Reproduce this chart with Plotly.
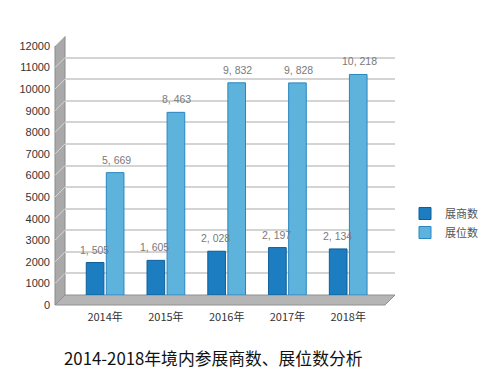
import plotly.graph_objects as go

categories = ["2014年", "2015年", "2016年", "2017年", "2018年"]
exhibitors = [1505, 1605, 2028, 2197, 2134]
booths = [5669, 8463, 9832, 9828, 10218]
series_names = ["展商数", "展位数"]
y_ticks = list(range(0, 12001, 1000))
title_text = "2014-2018年境内参展商数、展位数分析"

OFF = 8  # page body margin
W, H = 500 - OFF, 389 - OFF
# plot area in screenshot pixels
SL, SR, ST, SB = 65, 395, 36, 295
L, R, T, B = SL - OFF, SR - OFF, ST - OFF, SB - OFF


def px(x):
    return (x - SL) / (SR - SL)


def py(y):
    return (SB - y) / (SB - ST)


fig = go.Figure()
fig.add_trace(go.Bar(
    x=categories, y=exhibitors, name=series_names[0],
    marker=dict(color="#1c7ec0", line=dict(color="#0e5e98", width=1)),
))
fig.add_trace(go.Bar(
    x=categories, y=booths, name=series_names[1],
    marker=dict(color="#5db3dc", line=dict(color="#2a86c0", width=1)),
))

label_font = dict(color="#7a7a7a", size=10.5, family="Liberation Sans")
annotations = []
for series, shift in ((exhibitors, -11), (booths, 11)):
    for c, v in zip(categories, series):
        annotations.append(dict(x=c, y=v, xref="x", yref="y", xshift=shift, yshift=5,
                                text=f"{v:,}".replace(",", ", "), showarrow=False,
                                yanchor="bottom", font=label_font))
annotations.append(dict(text=title_text, xref="paper", yref="paper",
                        x=px(62), y=py(358), xanchor="left", yanchor="middle",
                        showarrow=False,
                        font=dict(size=16.8, color="#111", family="Noto Sans CJK SC")))

shapes = []
# left wall
shapes.append(dict(type="path", xref="paper", yref="paper",
                   path=f"M {px(55)},{py(46)} L {px(65)},{py(36)} L {px(65)},{py(295)} L {px(55)},{py(305)} Z",
                   fillcolor="#a9a9a9", line=dict(color="#8a8a8a", width=1), layer="below"))
# floor
shapes.append(dict(type="path", xref="paper", yref="paper",
                   path=f"M {px(55)},{py(305)} L {px(65)},{py(295)} L {px(395)},{py(295)} L {px(385)},{py(305)} Z",
                   fillcolor="#b5b5b5", line=dict(color="#909090", width=1), layer="below"))
# wall grid diagonals
for t in y_ticks[1:]:
    yy = SB - (SB - ST) * t / 12000
    shapes.append(dict(type="line", xref="paper", yref="paper",
                       x0=px(55), y0=py(yy + 10), x1=px(65), y1=py(yy),
                       line=dict(color="#d8d8d8", width=1), layer="above"))

fig.update_layout(
    width=W, height=H,
    margin=dict(l=L, r=W - R, t=T, b=H - B, autoexpand=False),
    paper_bgcolor="white", plot_bgcolor="white",
    barmode="group", bargap=0.34, bargroupgap=0.12,
    shapes=shapes, annotations=annotations,
    font=dict(family="Liberation Sans, Arial", color="#333"),
    legend=dict(x=px(405), y=py(199), xanchor="left", yanchor="top",
                font=dict(size=11, color="#555", family="Noto Sans CJK SC"),
                itemwidth=30, tracegroupgap=7, bgcolor="rgba(0,0,0,0)"),
    xaxis=dict(type="category", range=[-0.66, 4.77], showgrid=False, showline=False,
               ticks="", ticklabelstandoff=14,
               tickfont=dict(size=11, color="#333", family="Noto Sans CJK SC")),
    yaxis=dict(range=[0, 12000], tickvals=y_ticks, ticktext=[str(t) for t in y_ticks],
               showline=False, zeroline=False,
               gridcolor="#d4d4d4", gridwidth=1.5, ticks="",
               ticklabelstandoff=14, ticklabelshift=10,
               tickfont=dict(size=11, color="#333")),
)

fig.write_html("out.html")
